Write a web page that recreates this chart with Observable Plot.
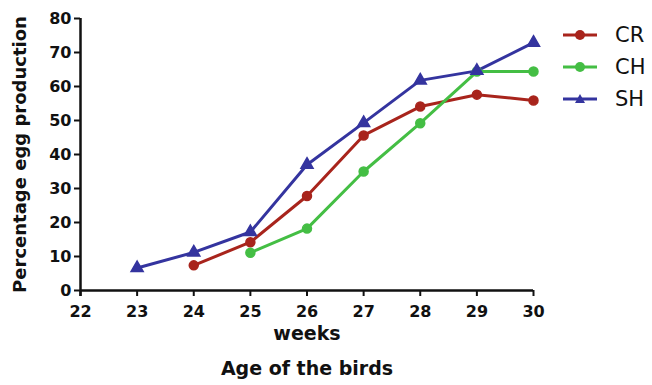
<!DOCTYPE html>
<html><head><meta charset="utf-8">
<script src="https://cdn.jsdelivr.net/npm/d3@7"></script>
<script src="https://cdn.jsdelivr.net/npm/@observablehq/plot@0.6"></script>
<style>
body{margin:0;background:#fff;font-family:"DejaVu Sans",sans-serif;}
#wrap{position:relative;width:652px;height:385px;}
#legend{position:absolute;left:560px;top:19px;font-size:21px;color:#111;font-family:"DejaVu Sans",sans-serif;}
#legend div{display:flex;align-items:center;height:32px;}
#legend span{margin-left:15px;}
</style></head>
<body><div id="wrap"><div id="chart"></div><div id="legend"></div></div>
<script>
const weeks = [23,24,25,26,27,28,29,30];
const seriesNames = ["CR","CH","SH"];
const CR = [null,7.4,14.2,27.8,45.6,54.1,57.6,55.9];
const CH = [null,null,11.1,18.2,35.0,49.2,64.4,64.4];
const SH = [6.6,11.2,17.2,37.0,49.3,61.8,64.6,72.9];
const colors = ["#a8241c","#44be44","#34349f"];
const symbols = ["circle","circle","triangle"];
const xTicks = [22,23,24,25,26,27,28,29,30];
const yTicks = [0,10,20,30,40,50,60,70,80];

const vals = {CR, CH, SH};
const data = [];
seriesNames.forEach(s => weeks.forEach((w,i) => { if (vals[s][i] != null) data.push({week:w, value:vals[s][i], series:s}); }));

const chart = Plot.plot({
  width:652, height:385,
  marginLeft:80, marginRight:119, marginTop:18, marginBottom:95,
  style:{fontFamily:"'DejaVu Sans',sans-serif", fontSize:"16px", fontWeight:"bold", color:"#111", background:"#fff"},
  x:{domain:[22,30], label:null},
  y:{domain:[0,80], label:null},
  color:{domain:seriesNames, range:colors},
  symbol:{domain:seriesNames, range:symbols},
  marks:[
    Plot.axisX({ticks:xTicks, tickSize:6, tickPadding:9, tickFormat:d=>d, label:null, fontSize:16, fontWeight:"bold", strokeWidth:2}),
    Plot.axisY({ticks:yTicks, tickSize:6, tickPadding:3, label:null, fontSize:16, fontWeight:"bold", strokeWidth:2}),
    Plot.ruleX([22], {stroke:"#111", strokeWidth:2.5, insetBottom:-6}),
    Plot.ruleY([0], {stroke:"#111", strokeWidth:2.5}),
    Plot.line(data, {x:"week", y:"value", z:"series", stroke:"series", strokeWidth:3}),
    Plot.dot(data, {x:"week", y:"value", fill:"series", stroke:"series", symbol:"series", r:4.5}),
    Plot.text(["Percentage egg production"], {frameAnchor:"left", dx:-60, rotate:-90, textAnchor:"middle", fontSize:18, fontWeight:"bold", text:d=>d}),
    Plot.text(["weeks"], {frameAnchor:"bottom", lineAnchor:"middle", dy:43, fontSize:19, fontWeight:"bold", text:d=>d}),
    Plot.text(["Age of the birds"], {frameAnchor:"bottom", lineAnchor:"middle", dy:78, fontSize:19, fontWeight:"bold", text:d=>d})
  ]
});
document.getElementById("chart").appendChild(chart);

const leg = document.getElementById("legend");
seriesNames.forEach((s,i)=>{
  const row = document.createElement("div");
  const sym = symbols[i]==="triangle"
    ? `<path d="M20,4 L25,13 L15,13 Z" fill="${colors[i]}"/>`
    : `<circle cx="20" cy="9" r="5" fill="${colors[i]}"/>`;
  row.innerHTML = `<svg width="40" height="18"><line x1="3" x2="37" y1="9" y2="9" stroke="${colors[i]}" stroke-width="3"/>${sym}</svg><span>${s}</span>`;
  leg.appendChild(row);
});
</script></body></html>
